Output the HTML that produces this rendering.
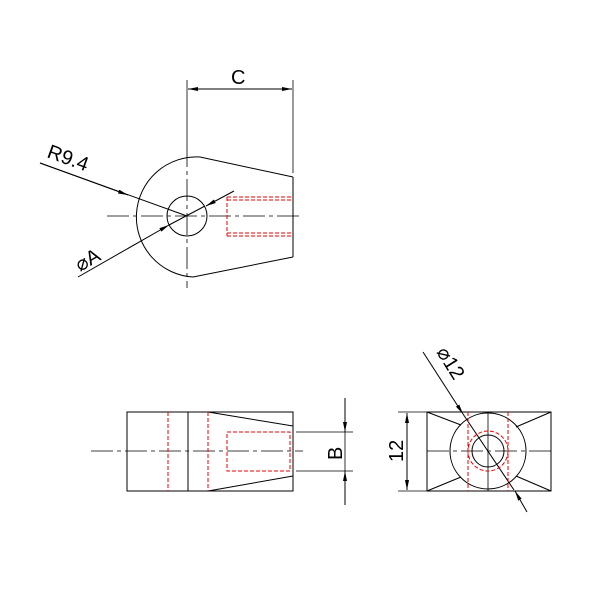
<!DOCTYPE html>
<html><head><style>body{margin:0;background:#fff}svg{display:block}</style></head><body>
<svg width="600" height="600" viewBox="0 0 600 600" xmlns="http://www.w3.org/2000/svg" font-family="Liberation Sans, sans-serif">
<defs><marker id="a" viewBox="0 0 10 4" refX="10" refY="2" markerWidth="10" markerHeight="4" orient="auto" markerUnits="userSpaceOnUse"><path d="M0,0L10,2L0,4z" fill="#000"/></marker></defs>
<g stroke="#000" stroke-width="1" fill="none">
<path d="M200,157 A60,60 0 1 0 193,277"/>
<line x1="200" y1="157" x2="293" y2="177"/>
<line x1="193" y1="277" x2="293" y2="257"/>
<line x1="293" y1="177" x2="293" y2="257"/>
<circle cx="187" cy="216" r="20"/>
<line x1="107" y1="216" x2="303" y2="216" stroke-dasharray="22,4,4,4" stroke-width="0.8"/>
<line x1="187" y1="145" x2="187" y2="288" stroke-dasharray="22,4,4,4" stroke-width="0.8"/>
<line x1="187" y1="80" x2="187" y2="145" stroke-width="0.8"/>
<line x1="293" y1="80" x2="293" y2="173" stroke-width="0.8"/>
<line x1="240" y1="89" x2="188" y2="89" marker-end="url(#a)"/>
<line x1="240" y1="89" x2="292" y2="89" marker-end="url(#a)"/>
<line x1="40" y1="163" x2="187" y2="216"/>
<line x1="40" y1="163" x2="128" y2="195" marker-end="url(#a)"/>
<line x1="78" y1="277" x2="169" y2="225" marker-end="url(#a)"/>
<line x1="169" y1="225" x2="205" y2="206"/>
<line x1="234" y1="191" x2="206" y2="206" marker-end="url(#a)"/>
<rect x="127" y="412" width="166" height="79"/>
<line x1="188" y1="412" x2="188" y2="491"/>
<line x1="208" y1="412" x2="293" y2="426"/>
<line x1="208" y1="491" x2="293" y2="476"/>
<line x1="91" y1="451" x2="303" y2="451" stroke-dasharray="22,4,4,4" stroke-width="0.8"/>
<line x1="296" y1="432" x2="353" y2="432" stroke-width="0.8"/>
<line x1="296" y1="471" x2="353" y2="471" stroke-width="0.8"/>
<line x1="345" y1="398" x2="345" y2="432" marker-end="url(#a)"/>
<line x1="345" y1="505" x2="345" y2="471" marker-end="url(#a)"/>
<line x1="345" y1="432" x2="345" y2="471" stroke-width="0.8"/>
<rect x="427" y="412" width="124" height="79"/>
<circle cx="488" cy="451" r="38"/>
<circle cx="488" cy="451" r="16"/>
<line x1="427" y1="412" x2="461" y2="425"/>
<line x1="551" y1="412" x2="516" y2="427"/>
<line x1="427" y1="491" x2="461" y2="477"/>
<line x1="551" y1="491" x2="516" y2="476"/>
<line x1="427" y1="451" x2="551" y2="451" stroke-dasharray="22,4,4,4" stroke-width="0.8"/>
<line x1="488" y1="412" x2="488" y2="491" stroke-width="0.8"/>
<line x1="398" y1="412" x2="427" y2="412" stroke-width="0.8"/>
<line x1="398" y1="491" x2="427" y2="491" stroke-width="0.8"/>
<line x1="407" y1="451" x2="407" y2="413" marker-end="url(#a)"/>
<line x1="407" y1="451" x2="407" y2="490" marker-end="url(#a)"/>
<line x1="423" y1="352" x2="463" y2="414" marker-end="url(#a)"/>
<line x1="463" y1="414" x2="514" y2="490"/>
<line x1="527" y1="512" x2="515" y2="491" marker-end="url(#a)"/>
</g>
<g stroke="#e00" stroke-width="1" fill="none" stroke-dasharray="4,2">
<line x1="227" y1="197" x2="293" y2="197"/><line x1="227" y1="200" x2="293" y2="200"/>
<line x1="227" y1="233" x2="293" y2="233"/><line x1="227" y1="236" x2="293" y2="236"/>
<line x1="227" y1="197" x2="227" y2="236"/>
<line x1="168" y1="412" x2="168" y2="491"/><line x1="208" y1="412" x2="208" y2="491"/>
<rect x="227" y="432" width="63" height="39"/>
<line x1="468" y1="412" x2="468" y2="491"/><line x1="508" y1="412" x2="508" y2="491"/>
<circle cx="488" cy="451" r="20"/>
</g>
<g fill="#000" font-size="20">
<text x="231" y="84">C</text>
<text x="0" y="0" transform="translate(46,157) rotate(20)">R9.4</text>
<text x="0" y="0" transform="translate(80,272) rotate(-30)">⌀A</text>
<text x="0" y="0" transform="translate(342,460) rotate(-90)">B</text>
<text x="0" y="0" transform="translate(403,462) rotate(-90)">12</text>
<text x="0" y="0" transform="translate(436,352) rotate(58)">⌀12</text>
</g>
</svg>
</body></html>
